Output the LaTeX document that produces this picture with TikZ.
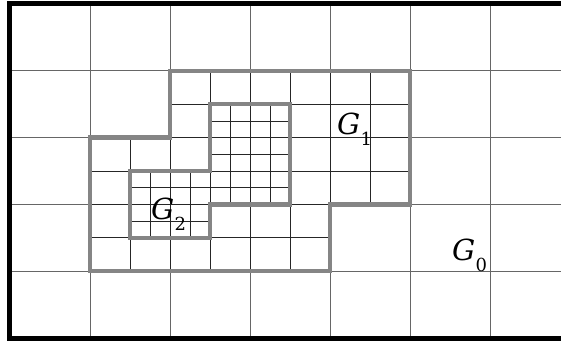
\documentclass[tikz,border=0pt]{standalone}
\usepackage{fontspec}
\newfontfamily\labfont{DejaVu Serif}
\newcommand{\glab}[1]{{\labfont\fontsize{29}{29}\selectfont\itshape G}\kern0.5pt\raisebox{-11pt}{\labfont\fontsize{18}{18}\selectfont #1}}
\tikzset{
  coarse/.style={draw=black!60, line width=0.8pt},
  fine/.style={draw=black!85, line width=0.7pt},
  region/.style={draw=black!48, line width=4.5pt, line join=miter},
  frame/.style={draw=black, line width=5pt},
  lab/.style={anchor=base west, inner sep=0pt, outer sep=0pt}
}
\begin{document}
\begin{tikzpicture}[x=1pt,y=-1pt]
\useasboundingbox (0,0) rectangle (561,342);
\fill[white] (0,0) rectangle (561,342);
\clip (0,0) rectangle (561,342);
% coarse grid
\foreach \i in {1,...,7} { \draw[coarse] ({10+80*\i},4) -- ({10+80*\i},338); }
\foreach \j in {1,...,4} { \draw[coarse] (10,{4+66.8*\j}) -- (580,{4+66.8*\j}); }
% G1 fine grid
\begin{scope}
\clip (170,70.8) -- (410,70.8) -- (410,204.4) -- (330,204.4) -- (330,271.2) -- (90,271.2) -- (90,137.6) -- (170,137.6) -- cycle;
\foreach \i in {0,...,8} { \draw[fine] ({90+40*\i},70) -- ({90+40*\i},272); }
\foreach \j in {0,...,6} { \draw[fine] (90,{70.8+33.4*\j}) -- (410,{70.8+33.4*\j}); }
\end{scope}
% G2 finer grid
\begin{scope}
\clip (210,104.2) -- (290,104.2) -- (290,204.4) -- (210,204.4) -- (210,237.8) -- (130,237.8) -- (130,171) -- (210,171) -- cycle;
\foreach \i in {0,...,8} { \draw[fine] ({130+20*\i},100) -- ({130+20*\i},240); }
\foreach \j in {0,...,8} { \draw[fine] (130,{104.2+16.7*\j}) -- (290,{104.2+16.7*\j}); }
\end{scope}
% region outlines
\draw[region] (170,70.8) -- (410,70.8) -- (410,204.4) -- (330,204.4) -- (330,271.2) -- (90,271.2) -- (90,137.6) -- (170,137.6) -- cycle;
\draw[region] (210,104.2) -- (290,104.2) -- (290,204.4) -- (210,204.4) -- (210,237.8) -- (130,237.8) -- (130,171) -- (210,171) -- cycle;
% outer frame (left, top, bottom)
\draw[frame] (600,3.5) -- (9.5,3.5) -- (9.5,338.5) -- (600,338.5);
% labels
\node[lab] (g1) at (337,134) {\glab{1}};
\node[lab] (g0) at (452,260) {\glab{0}};
\node[lab] (g2) at (151,219) {\glab{2}};
\end{tikzpicture}
\end{document}
